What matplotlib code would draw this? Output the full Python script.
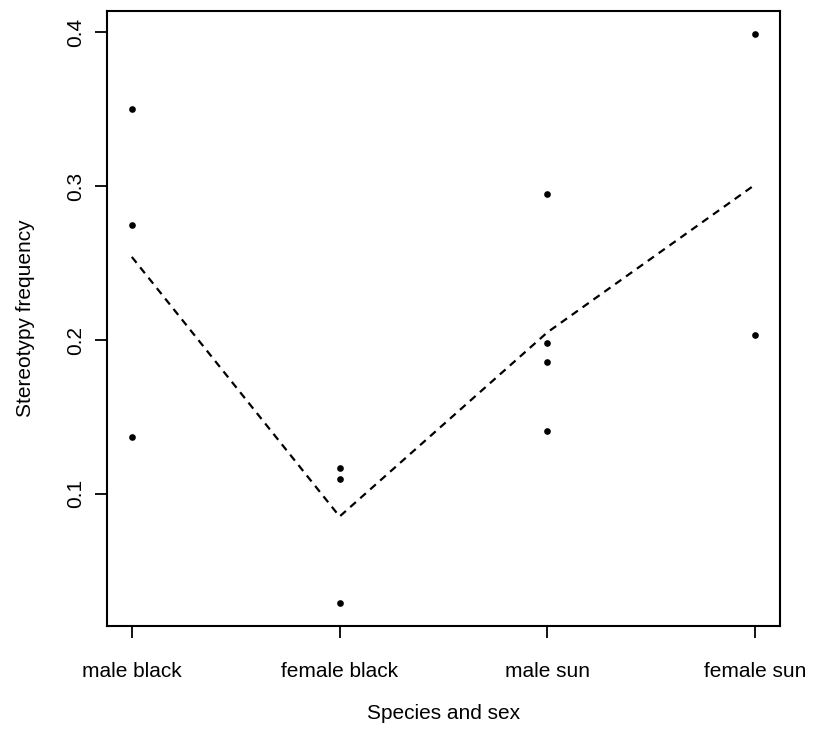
import matplotlib
matplotlib.use("Agg")
import matplotlib.pyplot as plt
import numpy as np

plt.rcParams['font.family'] = ['Liberation Sans', 'DejaVu Sans']

groups = ["male black", "female black", "male sun", "female sun"]
male_black = [0.350, 0.275, 0.137]
female_black = [0.117, 0.110, 0.029]
male_sun = [0.295, 0.198, 0.186, 0.141]
female_sun = [0.399, 0.203]
values = [male_black, female_black, male_sun, female_sun]

fig = plt.figure(figsize=(8.16, 7.33), dpi=100)
ax = fig.add_axes([0.131, 0.146, 0.825, 0.839])

for i, vals in enumerate(values, start=1):
    ax.plot([i] * len(vals), vals, "o", color="black", ms=4.8, mew=0)

means = [np.mean(v) for v in values]
ax.plot(range(1, 5), means, color="black", lw=1.6, ls=(0, (3.4, 2.6)))

# R-style 4% padding
allv = np.concatenate([np.array(v) for v in values])
lo, hi = allv.min(), allv.max()
pad = 0.04 * (hi - lo)
ax.set_ylim(lo - pad, hi + pad)
ax.set_xlim(1 - 0.12, 4 + 0.12)

ax.set_xticks(range(1, 5))
ax.set_xticklabels(groups)
ax.set_yticks([0.1, 0.2, 0.3, 0.4])
ax.set_yticklabels(["0.1", "0.2", "0.3", "0.4"], rotation=90, va="center")

ax.tick_params(direction="out", length=8.5, width=1.3, labelsize=15)
ax.tick_params(axis="y", pad=7.5)
ax.tick_params(axis="x", pad=17.5)
for s in ax.spines.values():
    s.set_linewidth(1.5)

ax.set_xlabel("Species and sex", fontsize=15, labelpad=16.5)
ax.set_ylabel("Stereotypy frequency", fontsize=15, labelpad=22)

fig.savefig("out.png", dpi=100)
